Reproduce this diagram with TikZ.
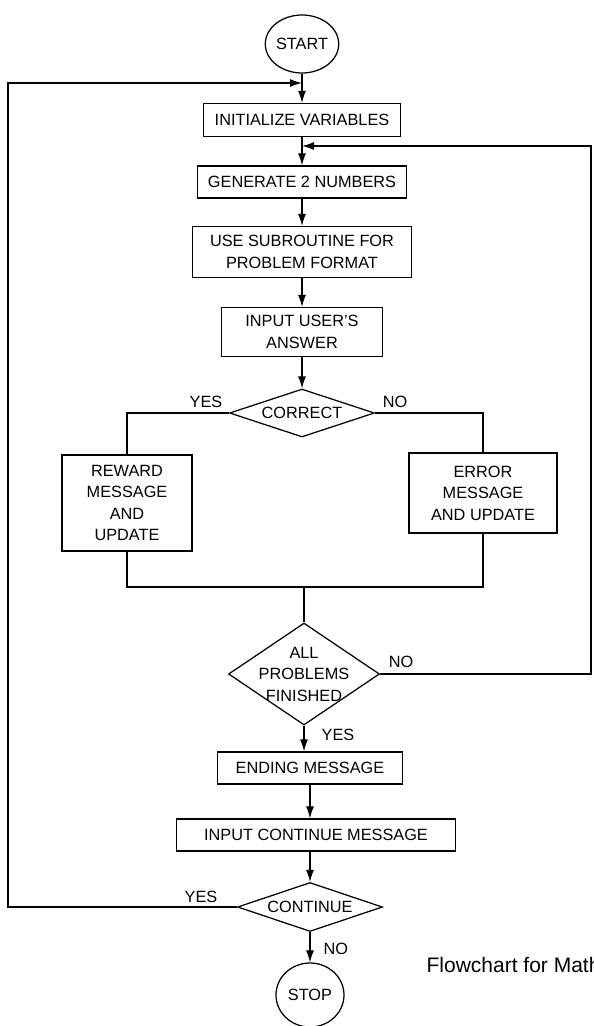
\documentclass[tikz,border=0pt]{standalone}
\usepackage{fontspec}
\setmainfont{Liberation Sans}
\usetikzlibrary{shapes.geometric}
\usetikzlibrary{arrows.meta}
\usetikzlibrary{positioning}

\begin{document}
\begin{tikzpicture}[x=1pt,y=-1pt,line width=1.25pt,
  >={Latex[length=12pt,width=8pt]},
  txt/.style={font=\fontsize{16.3}{21.5}\selectfont},
  box/.style={txt,draw,align=center,inner sep=0pt},
  term/.style={txt,draw,ellipse,inner sep=0pt},
  test/.style={txt,draw,diamond,aspect=3,align=center,inner sep=0pt},
  lbl/.style={txt,inner sep=1pt}]
\path [use as bounding box, fill=white] (0,0) rectangle (594,1026);
\node [term, minimum width=65pt, minimum height=58pt] (start) at (302,44) {START};
\node [box, minimum width=197pt, minimum height=33pt] (init) at (302,120) {INITIALIZE VARIABLES};
\node [box, minimum width=209pt, minimum height=32pt] (gen) at (302,182) {GENERATE 2 NUMBERS};
\node [box, minimum width=219pt, minimum height=51pt] (sub) at (302,252) {USE SUBROUTINE FOR\\PROBLEM FORMAT};
\node [box, minimum width=161pt, minimum height=49pt] (answer) at (302,332) {INPUT USER'S\\ANSWER};
\node [test, minimum width=145pt, minimum height=48pt] (correct) at (302,413) {CORRECT};
\node [box, minimum width=130pt, minimum height=96pt] (reward) at (127,503) {REWARD\\MESSAGE\\AND\\UPDATE};
\node [box, minimum width=148pt, minimum height=80pt] (error) at (483,493) {ERROR\\MESSAGE\\AND UPDATE};
\node [test, aspect=1.48, inner xsep=-12pt, minimum width=151pt, minimum height=102pt] (finished) at (304,674) {ALL\\PROBLEMS\\FINISHED};
\node [box, minimum width=185pt, minimum height=32pt] (ending) at (310,768) {ENDING MESSAGE};
\node [box, minimum width=279pt, minimum height=32pt] (inputcont) at (316,835) {INPUT CONTINUE MESSAGE};
\node [test, minimum width=145pt, minimum height=49pt] (cont) at (310,907) {CONTINUE};
\node [term, minimum width=68pt, minimum height=64pt] (stop) at (310,995) {STOP};
\node [anchor=base west, inner sep=0pt, font=\fontsize{21}{25}\selectfont] (caption) at (426,972) {Flowchart for Math};

\node [lbl, above left=4pt and 5pt of correct.west] (yesa) {YES};
\node [lbl, above right=4pt and 6pt of correct.east] (noa) {NO};
\node [lbl, above right=5pt and 7pt of finished.east] (nob) {NO};
\node [lbl, below right=2pt and 16pt of finished.south] (yesb) {YES};
\node [lbl, above left=3pt and 18pt of cont.west] (yesc) {YES};
\node [lbl, below right=9pt and 12pt of cont.south] (noc) {NO};

\coordinate (jtop) at (302,83);
\coordinate (jmid) at (302,146);
\coordinate (merge) at (304,587);
\coordinate (lx) at (8,0);
\coordinate (rx) at (591,0);

\draw [->] (start) -- (init);
\draw [->] (init) -- (gen);
\draw [->] (gen) -- (sub);
\draw [->] (sub) -- (answer);
\draw [->] (answer) -- (correct);
\draw (correct.west) -| (reward.north);
\draw (correct.east) -| (error.north);
\draw (reward.south) |- (merge) -| (error.south);
\draw (merge) -- (finished.north);
\draw [->] (finished.south) -- (finished.south |- ending.north);
\draw [->] (ending.south) -- (ending.south |- inputcont.north);
\draw [->] (cont.north |- inputcont.south) -- (cont.north);
\draw [->] (cont) -- (stop);
\draw [->] (finished.east) -| (rx |- jmid) -- (jmid);
\draw [->] (cont.west) -| (lx |- jtop) -- (jtop);
\end{tikzpicture}
\end{document}
